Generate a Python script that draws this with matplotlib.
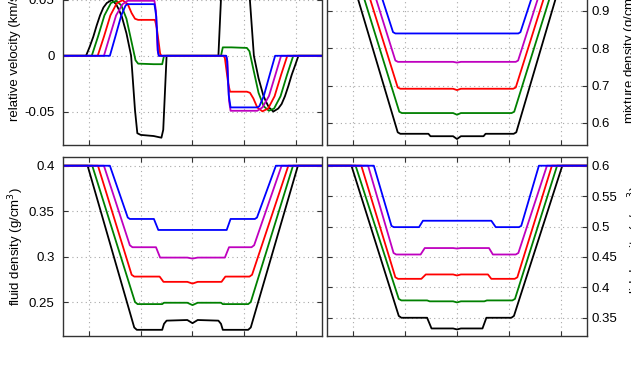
import matplotlib
matplotlib.use("Agg")
import matplotlib.pyplot as plt
from matplotlib.ticker import FuncFormatter

plt.rcParams['font.family'] = ['Liberation Sans', 'DejaVu Sans']
plt.rcParams['axes.unicode_minus'] = False

colors = ['k', '#008000', 'r', 'm', 'b']

# ---------------- relative velocity (km/s) ----------------
vel_x_black = [-5, -4.11, -3.97, -3.83, -3.7, -3.57, -3.44, -3.31, -3.12, -2.95, -2.84, -2.73, -2.55, -2.37,
               -2.22, -2.13, -2.0, -1.5, -1.2, -1.13, -1.0, 1.0, 1.13, 1.2, 1.5, 2.0, 2.13, 2.22, 2.37, 2.55,
               2.73, 2.84, 2.95, 3.12, 3.31, 3.44, 3.57, 3.7, 3.83, 3.97, 4.09, 5]
vel_y_black = [0, 0, 0.008, 0.017, 0.027, 0.036, 0.043, 0.047, 0.0497, 0.046, 0.041, 0.035, 0.02, 0, -0.0485,
               -0.069, -0.0705, -0.0715, -0.073, -0.066, 0, 0, 0.066, 0.073, 0.0715, 0.0705, 0.069, 0.0485, 0,
               -0.02, -0.035, -0.041, -0.046, -0.0497, -0.047, -0.043, -0.036, -0.027, -0.017, -0.008, 0, 0]

vel_x_green = [-5, -3.89, -3.65, -3.4, -3.15, -2.95, -2.75, -2.55, -2.35, -2.2, -2.1, -1.5, -1.17, -1.1,
               1.1, 1.17, 1.5, 2.1, 2.2, 2.35, 2.55, 2.75, 2.95, 3.15, 3.4, 3.65, 3.89, 5]
vel_y_green = [0, 0, 0.017, 0.036, 0.047, 0.049, 0.045, 0.033, 0.012, -0.004, -0.007, -0.0075, -0.0075, 0,
               0, 0.0075, 0.0075, 0.007, 0.004, -0.012, -0.033, -0.045, -0.049, -0.047, -0.036, -0.017, 0, 0]

vel_x_red = [-5, -3.66, -3.42, -3.17, -2.92, -2.7, -2.5, -2.35, -2.22, -2.1, -1.45, -1.38, -1.25, -1.2,
             1.2, 1.25, 1.38, 1.45, 2.1, 2.22, 2.35, 2.5, 2.7, 2.92, 3.17, 3.42, 3.66, 5]
vel_y_red = [0, 0, 0.017, 0.036, 0.047, 0.0495, 0.046, 0.038, 0.033, 0.032, 0.032, 0.025, 0.002, 0,
             0, -0.002, -0.025, -0.032, -0.032, -0.033, -0.038, -0.046, -0.0495, -0.047, -0.036, -0.017, 0, 0]

vel_x_magenta = [-5, -3.42, -3.2, -2.95, -2.7, -2.5, -1.47, -1.41, -1.35, -1.3,
                 1.3, 1.35, 1.41, 1.47, 2.5, 2.7, 2.95, 3.2, 3.42, 5]
vel_y_magenta = [0, 0, 0.017, 0.036, 0.046, 0.049, 0.049, 0.04, 0.005, 0,
                 0, -0.005, -0.04, -0.049, -0.049, -0.046, -0.036, -0.017, 0, 0]

vel_x_blue = [-5, -3.19, -2.98, -2.75, -2.58, -2.5, -1.47, -1.4, -1.33, -1.3,
              1.3, 1.33, 1.4, 1.47, 2.5, 2.58, 2.75, 2.98, 3.19, 5]
vel_y_blue = [0, 0, 0.017, 0.036, 0.045, 0.046, 0.046, 0.035, 0.003, 0,
              0, -0.003, -0.035, -0.046, -0.046, -0.045, -0.036, -0.017, 0, 0]

# ---------------- mixture density (g/cm^3) ----------------
mix_x_black = [-5, -4.1, -2.28, -2.18, -1.1, -1.02, -0.15, 0, 0.15, 1.02, 1.1, 2.18, 2.28, 4.08, 5]
mix_y_black = [1.0, 1.0, 0.575, 0.571, 0.571, 0.5645, 0.5645, 0.557, 0.5645, 0.5645, 0.571, 0.571, 0.575, 1.0, 1.0]

mix_x_green = [-5, -3.87, -2.22, -2.12, -0.15, 0, 0.15, 2.1, 2.2, 3.86, 5]
mix_y_green = [1.0, 1.0, 0.63, 0.6265, 0.6265, 0.622, 0.6265, 0.6265, 0.63, 1.0, 1.0]

mix_x_red = [-5, -3.65, -2.28, -2.18, -0.15, 0, 0.15, 2.16, 2.26, 3.64, 5]
mix_y_red = [1.0, 1.0, 0.695, 0.6915, 0.6915, 0.688, 0.6915, 0.6915, 0.695, 1.0, 1.0]

mix_x_magenta = [-5, -3.42, -2.37, -2.27, -0.15, 0, 0.15, 2.26, 2.35, 3.42, 5]
mix_y_magenta = [1.0, 1.0, 0.767, 0.7635, 0.7635, 0.7615, 0.7635, 0.7635, 0.767, 1.0, 1.0]

mix_x_blue = [-5, -3.19, -2.46, -2.37, 2.36, 2.44, 3.18, 5]
mix_y_blue = [1.0, 1.0, 0.843, 0.8395, 0.8395, 0.843, 1.0, 1.0]

# ---------------- fluid density (g/cm^3) ----------------
fl_x_black = [-5, -4.05, -2.25, -2.15, -1.17, -1.1, -1.0, -0.2, 0, 0.2, 1.0, 1.1, 1.17, 2.15, 2.25, 4.07, 5]
fl_y_black = [0.4, 0.4, 0.222, 0.2194, 0.2194, 0.226, 0.2295, 0.2302, 0.2267, 0.2302, 0.2295, 0.226, 0.2194,
              0.2194, 0.222, 0.4, 0.4]

fl_x_green = [-5, -3.87, -2.22, -2.12, -1.17, -1.1, -0.2, 0, 0.2, 1.1, 1.17, 2.15, 2.25, 3.88, 5]
fl_y_green = [0.4, 0.4, 0.25, 0.2477, 0.2477, 0.2492, 0.2492, 0.2466, 0.2492, 0.2492, 0.2477, 0.2477, 0.25, 0.4, 0.4]

fl_x_red = [-5, -3.65, -2.35, -2.25, -1.27, -1.12, -0.2, 0, 0.2, 1.12, 1.27, 2.2, 2.3, 3.7, 5]
fl_y_red = [0.4, 0.4, 0.28, 0.278, 0.278, 0.2722, 0.2722, 0.2703, 0.2722, 0.2722, 0.278, 0.278, 0.28, 0.4, 0.4]

fl_x_magenta = [-5, -3.42, -2.42, -2.32, -1.41, -1.25, -0.2, 0, 0.2, 1.25, 1.41, 2.28, 2.38, 3.44, 5]
fl_y_magenta = [0.4, 0.4, 0.3125, 0.3103, 0.3103, 0.2989, 0.2989, 0.2978, 0.2989, 0.2989, 0.3103, 0.3103, 0.3125,
                0.4, 0.4]

fl_x_blue = [-5, -3.19, -2.5, -2.42, -1.49, -1.32, 1.32, 1.47, 2.41, 2.49, 3.22, 5]
fl_y_blue = [0.4, 0.4, 0.343, 0.3414, 0.3414, 0.3293, 0.3293, 0.3414, 0.3414, 0.343, 0.4, 0.4]

# ---------------- right-bottom density (g/cm^3) ----------------
sd_x_black = [-5, -4.06, -2.24, -2.14, -1.15, -0.98, -0.15, 0, 0.15, 0.98, 1.13, 2.09, 2.19, 4.05, 5]
sd_y_black = [0.6, 0.6, 0.353, 0.35, 0.35, 0.3324, 0.3324, 0.3308, 0.3324, 0.3324, 0.35, 0.35, 0.353, 0.6, 0.6]

sd_x_green = [-5, -3.9, -2.24, -2.14, -1.15, -1.05, -0.15, 0, 0.15, 1.05, 1.15, 2.13, 2.23, 3.85, 5]
sd_y_green = [0.6, 0.6, 0.381, 0.3785, 0.3785, 0.377, 0.377, 0.3752, 0.377, 0.377, 0.3785, 0.3785, 0.381, 0.6, 0.6]

sd_x_red = [-5, -3.68, -2.37, -2.27, -1.37, -1.2, -0.15, 0, 0.15, 1.19, 1.32, 2.22, 2.32, 3.65, 5]
sd_y_red = [0.6, 0.6, 0.4165, 0.414, 0.414, 0.4212, 0.4212, 0.4195, 0.4212, 0.4212, 0.414, 0.414, 0.4165, 0.6, 0.6]

sd_x_magenta = [-5, -3.42, -2.44, -2.34, -1.4, -1.24, -0.15, 0, 0.15, 1.23, 1.38, 2.26, 2.36, 3.46, 5]
sd_y_magenta = [0.6, 0.6, 0.4565, 0.454, 0.454, 0.4646, 0.4646, 0.4638, 0.4646, 0.4646, 0.454, 0.454, 0.4565,
                0.6, 0.6]

sd_x_blue = [-5, -3.2, -2.52, -2.43, -1.46, -1.31, 1.32, 1.49, 2.38, 2.47, 3.15, 5]
sd_y_blue = [0.6, 0.6, 0.501, 0.499, 0.499, 0.5095, 0.5095, 0.499, 0.499, 0.501, 0.6, 0.6]

x_ticks = [-4, -2, 0, 2, 4]
vel_ticks = [-0.05, 0, 0.05]
mix_ticks = [0.6, 0.7, 0.8, 0.9, 1.0]
fl_ticks = [0.25, 0.3, 0.35, 0.4]
sd_ticks = [0.35, 0.4, 0.45, 0.5, 0.55, 0.6]

W, H = 631, 366
fig = plt.figure(figsize=(W / 100, H / 100), dpi=100)

def ax_at(x0, x1, ytop, ybot):
    return fig.add_axes([x0 / W, (H - ybot) / H, (x1 - x0) / W, (ybot - ytop) / H])

ax_v = ax_at(63, 322, -34, 145)
ax_m = ax_at(327, 587, -34, 145)
ax_f = ax_at(63, 322, 157, 336)
ax_s = ax_at(327, 587, 157, 336)

fmt = FuncFormatter(lambda v, p: ('%g' % round(v, 6)))

def style(ax, yt, ylim, right=False):
    ax.set_xlim(-5, 5)
    ax.set_ylim(*ylim)
    ax.set_xticks(x_ticks)
    ax.set_xticklabels([])
    ax.set_yticks(yt)
    ax.yaxis.set_major_formatter(fmt)
    ax.grid(True, color='#a8a8a8', linestyle=(0, (1, 3)), linewidth=0.8)
    ax.tick_params(direction='in', top=True, right=True, bottom=True, left=True,
                   length=3.5, width=0.8, labelsize=9.5, color='#333333')
    if right:
        ax.yaxis.tick_right()
        ax.tick_params(left=True, right=True, labelleft=False, labelright=True, pad=3)
    else:
        ax.tick_params(pad=6)
    for s in ax.spines.values():
        s.set_color('#333333')
        s.set_linewidth(1.0)

def draw(ax, series):
    for (xs, ys), c in zip(series, colors):
        ax.plot(xs, ys, color=c, linewidth=1.3)

draw(ax_v, [(vel_x_black, vel_y_black), (vel_x_green, vel_y_green), (vel_x_red, vel_y_red),
            (vel_x_magenta, vel_y_magenta), (vel_x_blue, vel_y_blue)])
draw(ax_m, [(mix_x_black, mix_y_black), (mix_x_green, mix_y_green), (mix_x_red, mix_y_red),
            (mix_x_magenta, mix_y_magenta), (mix_x_blue, mix_y_blue)])
draw(ax_f, [(fl_x_black, fl_y_black), (fl_x_green, fl_y_green), (fl_x_red, fl_y_red),
            (fl_x_magenta, fl_y_magenta), (fl_x_blue, fl_y_blue)])
draw(ax_s, [(sd_x_black, sd_y_black), (sd_x_green, sd_y_green), (sd_x_red, sd_y_red),
            (sd_x_magenta, sd_y_magenta), (sd_x_blue, sd_y_blue)])

style(ax_v, vel_ticks, (-0.0795, 0.080))
style(ax_m, mix_ticks, (0.541, 1.02), right=True)
style(ax_f, fl_ticks, (0.2126, 0.4096))
style(ax_s, sd_ticks, (0.32, 0.6143), right=True)

ax_v.set_ylabel('relative velocity (km/s)', fontsize=9.5)
ax_v.yaxis.set_label_coords(-0.162, 0.5)
ax_f.set_ylabel('fluid density (g/cm$^3$)', fontsize=9.5)
ax_f.yaxis.set_label_coords(-0.143, 0.5)
ax_m.set_ylabel('mixture density (g/cm$^3$)', fontsize=9.5)
ax_m.yaxis.set_label_position('right')
ax_m.yaxis.set_label_coords(1.127, 0.5)
ax_s.set_ylabel('solid density (g/cm$^3$)', fontsize=9.5)
ax_s.yaxis.set_label_position('right')
ax_s.yaxis.set_label_coords(1.153, 0.5)

fig.savefig('out.png', dpi=100)
